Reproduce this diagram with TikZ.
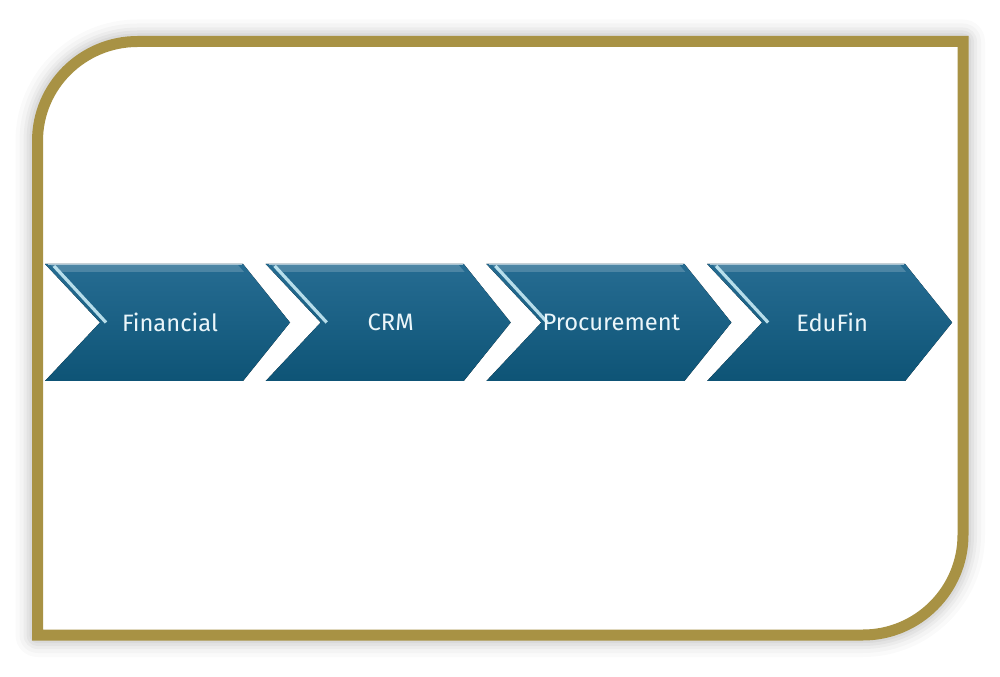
\documentclass[tikz,border=0pt]{standalone}
\usepackage{fontspec}
\setmainfont{Fira Sans}
\definecolor{gold}{RGB}{168,146,68}
\definecolor{chtop}{RGB}{38,108,146}
\definecolor{chbot}{RGB}{14,84,118}
\definecolor{chhi}{RGB}{200,235,245}
\definecolor{lbl}{RGB}{235,246,250}
\tikzset{
  framepath/.style={line width=8.25pt, draw=gold},
  chev/.style={top color=chtop, bottom color=chbot, draw=none},
  chlabel/.style={text=lbl, font=\fontsize{17.8}{20}\selectfont, inner sep=0pt},
}
\begin{document}
\begin{tikzpicture}[x=0.75pt,y=-0.75pt]
\useasboundingbox (0,0) rectangle (1000,677);
\fill[white] (0,0) rectangle (1000,677);
% soft shadow
\foreach \w/\o in {44/0.02,36/0.025,28/0.03,22/0.035,16/0.04} {
  \draw[line width=\w*0.75pt, black, opacity=\o, line join=round]
    (37.5,141) .. controls (37.5,86) and (82.5,41.5) .. (137.5,41.5)
    -- (963,41.5) -- (963,535) .. controls (963,590) and (918,635) .. (863,635)
    -- (37.5,635) -- cycle;
}
\fill[white]
    (37.5,141) .. controls (37.5,86) and (82.5,41.5) .. (137.5,41.5)
    -- (963,41.5) -- (963,535) .. controls (963,590) and (918,635) .. (863,635)
    -- (37.5,635) -- cycle;
\draw[framepath]
    (37.5,141) .. controls (37.5,86) and (82.5,41.5) .. (137.5,41.5)
    -- (963,41.5) -- (963,535) .. controls (963,590) and (918,635) .. (863,635)
    -- (37.5,635) -- cycle;
% chevrons
\foreach \i/\name/\lbl in {0/fin/Financial,1/crm/CRM,2/proc/Procurement,3/edu/EduFin} {
  \begin{scope}[shift={(45+220.7*\i,0)}]
    \fill[chev] (0,264) -- (198,264) -- (245,322.5) -- (198,381) -- (0,381) -- (55,322.5) -- cycle;
    % top highlight band
    \fill[white, opacity=0.18] (6,265) -- (193,265) -- (199,272) -- (12,272) -- cycle;
    % left edge highlight
    \draw[chhi, line width=2.4pt, opacity=0.9] (9,266) -- (61,322.5);
    \draw[white, line width=0.8pt, opacity=0.6] (3,264.5) -- (197,264.5);
    \node[chlabel] (\name) at (125,322) {\lbl};
  \end{scope}
}
\end{tikzpicture}
\end{document}
